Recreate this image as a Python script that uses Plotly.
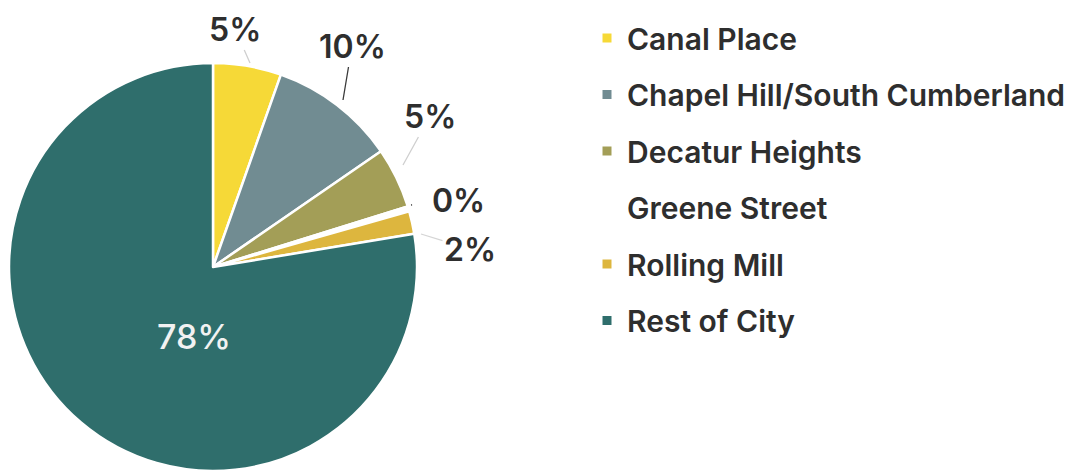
import plotly.graph_objects as go

labels = ["Canal Place", "Chapel Hill/South Cumberland", "Decatur Heights",
          "Greene Street", "Rolling Mill", "Rest of City"]
values = [5.4, 10.0, 4.8, 0.4, 1.8, 77.6]
colors = ["#F6D937", "#718C92", "#A39E57", "#FFFFFF", "#DDB63E", "#2F6E6C"]

# label placement (window pixels): arrow point, text offset, leader colour
label_point = [(250, 63), (343, 100), (403, 165), (411, 205), (421, 234), (194, 336)]
label_offset = [(-15, -34), (9, -54), (27, -49), (47, -5), (49, 15), (0, 0)]
leader_color = ["#CFCFCF", "#3A3A3A", "#CFCFCF", "#3A3A3A", "#D5D5D5", None]
leader_trim = [0, 0, 0, 18, 0, 0]

W, H = 1076, 472
PAGE = 8  # default page margin of the html body
FONT = "Inter"
DARK = "#2E2E2E"


def fx(X):
    return (X - PAGE) / W


def fy(Y):
    return 1 - (Y - PAGE) / H


fig = go.Figure()

fig.add_trace(go.Pie(
    labels=labels,
    values=values,
    sort=False,
    direction="clockwise",
    rotation=0,
    marker=dict(colors=colors, line=dict(color="white", width=2.5)),
    textinfo="none",
    showlegend=False,
    hoverinfo="label+percent",
    domain=dict(x=[fx(9), fx(417)], y=[fy(471), fy(63)]),
))

# legend entries, one per category
for lab, col in zip(labels, colors):
    fig.add_trace(go.Scatter(
        x=[None], y=[None], mode="markers", name=lab,
        legendgroup=lab,
        marker=dict(symbol="square", size=9, color=col),
        hoverinfo="skip",
    ))

total = sum(values)
annotations = []
for v, (px, py), (ox, oy), lc, trim in zip(values, label_point, label_offset,
                                           leader_color, leader_trim):
    txt = f"{round(100 * v / total):.0f}%"
    if lc is None:
        annotations.append(dict(
            x=fx(px), y=fy(py), xref="paper", yref="paper", text=txt,
            showarrow=False, xanchor="center", yanchor="middle",
            font=dict(family=FONT, size=34, color="#F2F2F2", weight=500),
        ))
    else:
        annotations.append(dict(
            x=fx(px), y=fy(py), xref="paper", yref="paper", text=txt,
            showarrow=True, arrowhead=0, arrowwidth=1.3, arrowcolor=lc,
            ax=ox, ay=oy, standoff=0, startstandoff=trim,
            font=dict(family=FONT, size=32, color=DARK, weight=600),
        ))

fig.update_layout(
    width=W, height=H,
    margin=dict(l=0, r=0, t=0, b=0),
    paper_bgcolor="white", plot_bgcolor="white",
    xaxis=dict(visible=False), yaxis=dict(visible=False),
    annotations=annotations,
    legend=dict(
        x=579/W, xanchor="left", y=1 - 4/H, yanchor="top",
        font=dict(family=FONT, size=30, color=DARK, weight=600),
        tracegroupgap=14.5, itemclick=False, itemdoubleclick=False,
        bgcolor="rgba(0,0,0,0)",
    ),
)

fig.write_html("out.html")
